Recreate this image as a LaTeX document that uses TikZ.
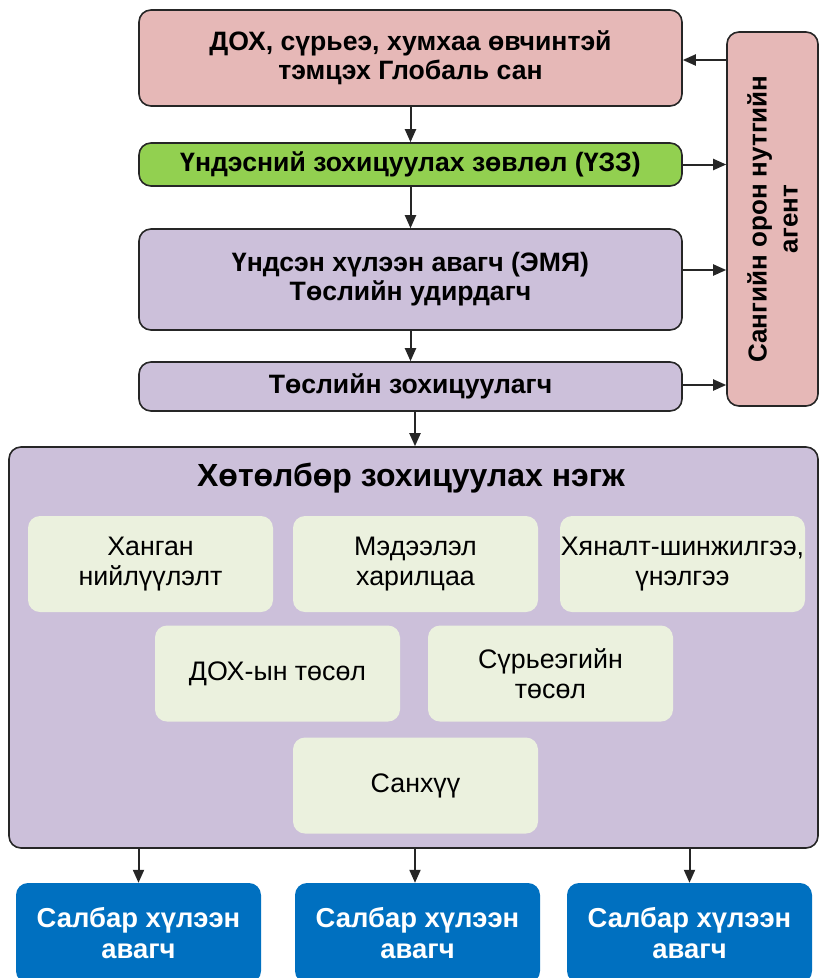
\documentclass[tikz,border=0pt]{standalone}
\usepackage{fontspec}
\setmainfont{Liberation Sans}
\usetikzlibrary{arrows.meta}
\definecolor{cpink}{HTML}{E6B8B7}
\definecolor{cgreen}{HTML}{92D050}
\definecolor{cpurple}{HTML}{CCC0DA}
\definecolor{cinner}{HTML}{EBF1DE}
\definecolor{cblue}{HTML}{0070C0}
\definecolor{cline}{HTML}{262626}
\tikzset{
  box/.style={draw=cline, line width=1.6pt, rounded corners=12pt, align=center, inner sep=0pt},
  headtxt/.style={font=\bfseries\fontsize{26.6}{29}\selectfont},
  inbox/.style={fill=cinner, rounded corners=12pt, minimum width=245pt, minimum height=96pt, align=center, inner sep=0pt, font=\fontsize{26.8}{30}\selectfont},
  bluebox/.style={fill=cblue, rounded corners=12pt, minimum width=245pt, minimum height=100pt, align=center, inner sep=0pt, text=white, font=\bfseries\fontsize{27.4}{31}\selectfont},
  arr/.style={draw=cline, line width=2pt, -{Triangle[length=13pt,width=11pt]}}
}
\begin{document}
\begin{tikzpicture}[x=1pt,y=-1pt]
\useasboundingbox (0,0) rectangle (819,978);
% top chain
\node[box, headtxt, fill=cpink, minimum width=543pt, minimum height=96pt] (b1) at (410.5,58) {ДОХ, сүрьеэ, хумхаа өвчинтэй\\тэмцэх Глобаль сан};
\node[box, headtxt, fill=cgreen, minimum width=543pt, minimum height=43pt] (b2) at (410.5,164.5) {Үндэсний зохицуулах зөвлөл (ҮЗЗ)};
\node[box, headtxt, fill=cpurple, minimum width=543pt, minimum height=101pt] (b3) at (410.5,279.5) {Үндсэн хүлээн авагч (ЭМЯ)\\Төслийн удирдагч};
\node[box, headtxt, fill=cpurple, minimum width=543pt, minimum height=49pt] (b4) at (410.5,386.5) {Төслийн зохицуулагч};
% side box
\node[box, fill=cpink, minimum width=91pt, minimum height=374pt] (side) at (772.5,219) {};
\node[rotate=90, align=center, font=\bfseries\fontsize{26}{31}\selectfont] (sidetxt) at (side.center) {Сангийн орон нутгийн\\агент};
% big box
\node[box, fill=cpurple, minimum width=809pt, minimum height=401pt] (big) at (413.5,647.5) {};
\node[font=\bfseries\fontsize{32}{36}\selectfont] (title) at (411,478) {Хөтөлбөр зохицуулах нэгж};
% inner boxes
\node[inbox] (i1) at (150.5,564) {Ханган\\нийлүүлэлт};
\node[inbox] (i2) at (415.5,564) {Мэдээлэл\\харилцаа};
\node[inbox] (i3) at (682.5,564) {Хяналт-шинжилгээ,\\үнэлгээ};
\node[inbox] (i4) at (277.5,673.5) {ДОХ-ын төсөл};
\node[inbox] (i5) at (550.5,673.5) {Сүрьеэгийн\\төсөл};
\node[inbox] (i6) at (415.5,785.5) {Санхүү};
% blue boxes
\node[bluebox] (s1) at (138.5,933) {Салбар хүлээн\\авагч};
\node[bluebox] (s2) at (417.5,933) {Салбар хүлээн\\авагч};
\node[bluebox] (s3) at (689.5,933) {Салбар хүлээн\\авагч};
% arrows down
\draw[arr] (b1) -- (b2);
\draw[arr] (b2) -- (b3);
\draw[arr] (b3) -- (b4);
\draw[arr] (b4.south -| 415,0) -- (big.north -| 415,0);
\draw[arr] (big.south -| s1) -- (s1.north);
\draw[arr] (big.south -| 415,0) -- (s2.north -| 415,0);
\draw[arr] (big.south -| s3) -- (s3.north);
% side arrows
\draw[arr] (side.west |- 0,60) -- (b1.east |- 0,60);
\draw[arr] (b2.east) -- (side.west |- b2.east);
\draw[arr] (b3.east |- 0,270) -- (side.west |- 0,270);
\draw[arr] (b4.east |- 0,385) -- (side.west |- 0,385);
\end{tikzpicture}
\end{document}
